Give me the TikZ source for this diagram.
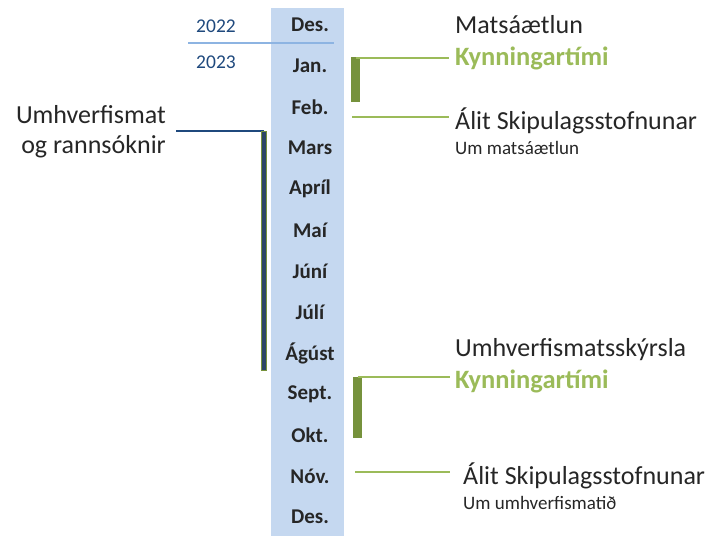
\documentclass[tikz,border=0pt]{standalone}
\usepackage{fontspec}
\setmainfont{Carlito}
\definecolor{colblue}{HTML}{C5D8F0}
\definecolor{yearblue}{HTML}{8DB4E2}
\definecolor{navy}{HTML}{1F497D}
\definecolor{darkbar}{HTML}{2B4566}
\definecolor{olive}{HTML}{76923C}
\definecolor{lightgreen}{HTML}{9BBB59}
\definecolor{txt}{HTML}{262626}
\begin{document}
\begin{tikzpicture}[
  x=1pt, y=-1pt,
  month/.style={font=\fontsize{21}{25}\selectfont\bfseries, text=txt, inner sep=0pt},
  year/.style={font=\fontsize{19.5}{23}\selectfont, text=navy, inner sep=0pt},
  label/.style={font=\fontsize{26}{30}\selectfont, text=txt, anchor=west, inner sep=0pt},
  sublabel/.style={font=\fontsize{19}{22}\selectfont, text=txt, anchor=west, inner sep=0pt},
  period/.style={font=\fontsize{26.5}{30}\selectfont\bfseries, text=lightgreen, anchor=west, inner sep=0pt},
  bar/.style={fill=olive, draw=none},
  thinline/.style={draw=lightgreen, line width=1.2pt},
  node distance=41pt
]
\useasboundingbox (0,0) rectangle (711,536);

% Month column
\fill[colblue] (271,8) rectangle (344,536);
\node[month] (des1) at (310,25) {Des.};
\node[month, below of=des1] (jan) {Jan.};
\node[month, below of=jan] (feb) {Feb.};
\node[month, below of=feb] (mars) {Mars};
\node[month, below of=mars] (april) {Apríl};
\node[month, below of=april] (mai) {Maí};
\node[month, below of=mai] (juni) {Júní};
\node[month, below of=juni] (juli) {Júlí};
\node[month, below of=juli] (agust) {Ágúst};
\node[month, below of=agust] (sept) {Sept.};
\node[month, below of=sept] (okt) {Okt.};
\node[month, below of=okt] (nov) {Nóv.};
\node[month, below of=nov] (des2) {Des.};

% Years
\node[year] (y22) at (216,26) {2022};
\node[year] (y23) at (216,62) {2023};
\coordinate (ysplit) at (188,43);
\draw[yearblue, line width=2pt] (ysplit) -- (334,43);

% Umhverfismat
\node[font=\fontsize{26}{30}\selectfont, text=txt, align=right, anchor=north east, inner sep=0pt] (umhv) at (166,105) {Umhverfismat\\og rannsóknir};
\coordinate (umtop) at (264,131);
\draw[navy, line width=1.2pt] (176,131) -- (umtop);
\draw[darkbar, line width=3.5pt] (umtop) -- (264,370);
\draw[olive, line width=0.6pt] (261.5,131) rectangle (266.5,370);

% Matsaaetlun
\node[label] (mats) at (455,25) {Matsáætlun};
\node[period] (kynn1) at (455,58) {Kynningartími};
\fill[bar] (351,57) rectangle (360,102);
\draw[thinline] (356,58) -- ([xshift=-6pt]kynn1.west);
\node[label] (alit1) at (455,121) {Álit Skipulagsstofnunar};
\node[sublabel] (um1) at (455,148) {Um matsáætlun};
\coordinate (f1) at (352,117);
\draw[thinline] (f1) -- ([xshift=-6pt]alit1.west |- f1);

% Umhverfismatsskyrsla
\node[label] (skyrsla) at (455,350) {Umhverfismatsskýrsla};
\node[period] (kynn2) at (455,381) {Kynningartími};
\coordinate (k2) at (358,377);
\fill[bar] (353,377) rectangle (362,438);
\draw[thinline] (k2) -- ([xshift=-5pt]kynn2.west |- k2);
\node[label] (alit2) at (463,476) {Álit Skipulagsstofnunar};
\node[sublabel] (um2) at (463,503) {Um umhverfismatið};
\coordinate (n1) at (355,472);
\draw[thinline] (n1) -- ([xshift=-13pt]alit2.west |- n1);

\end{tikzpicture}
\end{document}
